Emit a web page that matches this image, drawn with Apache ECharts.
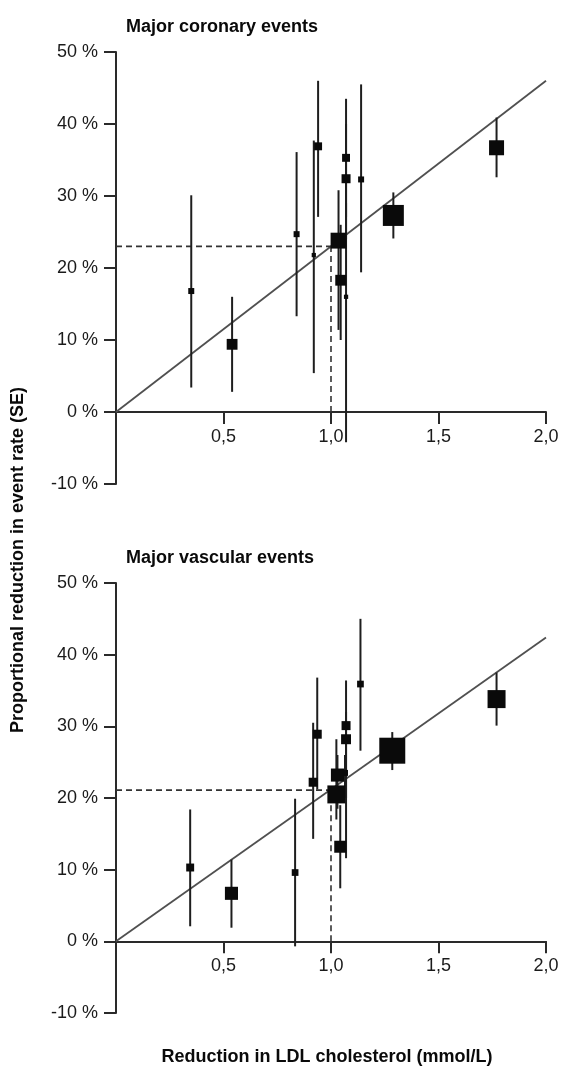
<!DOCTYPE html>
<html>
<head>
<meta charset="utf-8">
<script src="https://cdn.jsdelivr.net/npm/echarts@6/dist/echarts.min.js"></script>
<style>
    html, body { margin: 0; padding: 0; background: #fff; }
    #chart { width: 562px; height: 1068px; }
</style>
</head>
<body>
<div id="chart"></div>
<script>
    // 上图: major coronary events
    var topX    = [0.35, 0.54, 0.84, 0.92, 0.94, 1.035, 1.045, 1.07, 1.07, 1.07, 1.14, 1.29, 1.77];
    var topY    = [16.8, 9.4, 24.7, 21.8, 36.9, 23.8, 18.3, 35.3, 32.4, 16.0, 32.3, 27.3, 36.7];
    var topLow  = [3.4, 2.8, 13.3, 5.4, 27.1, 11.4, 10.0, 27.0, 24.0, -4.2, 19.4, 24.1, 32.6];
    var topHigh = [30.1, 16.0, 36.1, 37.7, 46.0, 30.8, 26.0, 43.5, 40.0, 29.0, 45.5, 30.5, 40.9];
    var topW    = [4, 13, 4, 2, 7, 28, 13, 7, 9, 2, 4, 49, 25];
    var topFit  = [0, 46];
    var topRef  = 23;

    // 下图: major vascular events
    var botX    = [0.345, 0.537, 0.833, 0.917, 0.936, 1.025, 1.03, 1.065, 1.043, 1.07, 1.07, 1.137, 1.285, 1.77];
    var botY    = [10.3, 6.7, 9.6, 22.2, 28.9, 20.5, 23.2, 23.5, 13.2, 30.1, 28.2, 35.9, 26.6, 33.8];
    var botLow  = [2.1, 1.9, -0.7, 14.3, 21.2, 17.0, 18.5, 20.0, 7.4, 20.0, 11.6, 26.6, 23.9, 30.1];
    var botHigh = [18.4, 11.4, 19.9, 30.5, 36.8, 28.2, 26.0, 26.0, 19.0, 36.4, 32.0, 45.0, 29.2, 37.5];
    var botW    = [7, 19, 5, 9, 9, 36, 19, 4, 16, 9, 11, 5, 75, 36];
    var botFit  = [0, 42.4];
    var botRef  = 21.1;

    var fitX = [0, 2.0];
    var refX = 1.0;
    var xTicks = ['', '0,5', '1,0', '1,5', '2,0'];

    var font = 'Liberation Sans, Arial, sans-serif';
    var axisColor = '#2a2a2a';
    var yMin = -10, yMax = 50;
    var grids = [
        { left: 116, top: 52, width: 430, height: 432 },
        { left: 116, top: 583, width: 430, height: 430 }
    ];

    function xAxisCfg(idx) {
        // 标签放在0%线下方
        var toZero = grids[idx].height * (0 - yMin) / (yMax - yMin);
        return {
            gridIndex: idx, type: 'value', min: 0, max: 2, interval: 0.5,
            axisLine: { onZero: true, lineStyle: { color: axisColor, width: 2 } },
            axisTick: { show: true, length: 12, lineStyle: { color: axisColor, width: 2 } },
            axisLabel: {
                margin: 16 - toZero, color: '#1a1a1a', fontSize: 18, fontFamily: font,
                formatter: function (v) { return xTicks[Math.round(v / 0.5)]; }
            },
            splitLine: { show: false }
        };
    }

    function yAxisCfg(idx) {
        return {
            gridIndex: idx, type: 'value', min: yMin, max: yMax, interval: 10,
            axisLine: { show: true, onZero: false, lineStyle: { color: axisColor, width: 2 } },
            axisTick: { show: true, length: 12, lineStyle: { color: axisColor, width: 2 } },
            axisLabel: { margin: 18, color: '#1a1a1a', fontSize: 18, fontFamily: font, formatter: '{value} %' },
            splitLine: { show: false }
        };
    }

    function panelSeries(idx, xs, ys, lows, highs, ws, fit, ref) {
        var bars = [], pts = [];
        for (var i = 0; i < xs.length; i++) {
            bars.push([xs[i], lows[i], highs[i]]);
            pts.push([xs[i], ys[i], ws[i]]);
        }
        return [{
            type: 'line', xAxisIndex: idx, yAxisIndex: idx,
            data: [[fitX[0], fit[0]], [fitX[1], fit[1]]],
            symbol: 'none', silent: true, z: 2,
            lineStyle: { color: '#505050', width: 1.8 }
        }, {
            type: 'line', xAxisIndex: idx, yAxisIndex: idx,
            data: [[0, ref], [refX, ref]],
            symbol: 'none', silent: true, z: 2,
            lineStyle: { color: '#333', width: 1.6, type: [6, 4] }
        }, {
            type: 'line', xAxisIndex: idx, yAxisIndex: idx,
            data: [[refX, 0], [refX, ref]],
            symbol: 'none', silent: true, z: 2,
            lineStyle: { color: '#333', width: 1.6, type: [6, 4] }
        }, {
            type: 'custom', xAxisIndex: idx, yAxisIndex: idx,
            data: bars, z: 3,
            encode: { x: 0, y: [1, 2] },
            renderItem: function (params, api) {
                var p1 = api.coord([api.value(0), api.value(1)]);
                var p2 = api.coord([api.value(0), api.value(2)]);
                return {
                    type: 'line',
                    shape: { x1: p1[0], y1: p1[1], x2: p2[0], y2: p2[1] },
                    style: { stroke: '#1e1e1e', lineWidth: 2 }
                };
            }
        }, {
            type: 'scatter', xAxisIndex: idx, yAxisIndex: idx,
            data: pts, z: 4,
            symbol: 'rect',
            symbolSize: function (v) { return Math.sqrt(v[2]) * 3; },
            itemStyle: { color: '#0a0a0a', opacity: 1 }
        }];
    }

    var chart = echarts.init(document.getElementById('chart'), null, { renderer: 'canvas' });

    var option = {
        backgroundColor: '#fff',
        animation: false,
        title: [{
            text: 'Major coronary events', left: 121, top: 13,
            textStyle: { fontSize: 18, fontWeight: 'bold', color: '#0a0a0a', fontFamily: font }
        }, {
            text: 'Major vascular events', left: 121, top: 544,
            textStyle: { fontSize: 18, fontWeight: 'bold', color: '#0a0a0a', fontFamily: font }
        }],
        grid: grids,
        xAxis: [xAxisCfg(0), xAxisCfg(1)],
        yAxis: [yAxisCfg(0), yAxisCfg(1)],
        graphic: [{
            type: 'text', x: 18, y: 560, rotation: Math.PI / 2,
            style: {
                text: 'Proportional reduction in event rate (SE)',
                fontSize: 18, fontWeight: 'bold', fill: '#0a0a0a', fontFamily: font,
                align: 'center', verticalAlign: 'middle'
            }
        }, {
            type: 'text', x: 327, y: 1057,
            style: {
                text: 'Reduction in LDL cholesterol (mmol/L)',
                fontSize: 18, fontWeight: 'bold', fill: '#0a0a0a', fontFamily: font,
                align: 'center', verticalAlign: 'middle'
            }
        }],
        series: [].concat(
            panelSeries(0, topX, topY, topLow, topHigh, topW, topFit, topRef),
            panelSeries(1, botX, botY, botLow, botHigh, botW, botFit, botRef)
        )
    };

    chart.setOption(option);
</script>
</body>
</html>
